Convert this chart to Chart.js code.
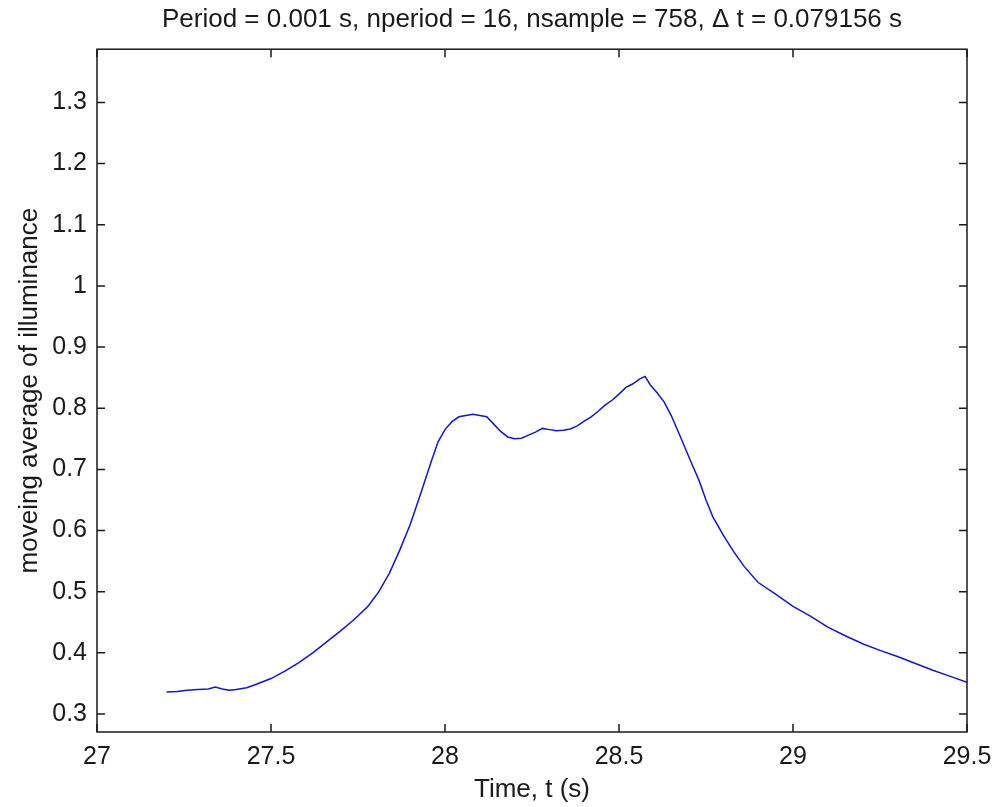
<!DOCTYPE html>
<html lang="en">
<head>
    <meta charset="UTF-8">
    <title>moving average of illuminance</title>
    <style>
        html, body { margin: 0; padding: 0; background: #fff; }
        #wrap { width: 995px; height: 807px; }
    </style>
</head>
<body>
    <div id="wrap"><canvas id="illumChart" width="995" height="807"></canvas></div>

    <script src="https://cdn.jsdelivr.net/npm/chart.js"></script>
    <script>
        // data
        const timeS = [27.20, 27.23, 27.26, 27.29, 27.32, 27.34, 27.36, 27.38, 27.40, 27.43,
            27.46, 27.50, 27.54, 27.58, 27.62, 27.66, 27.70, 27.74, 27.78, 27.81,
            27.84, 27.87, 27.90, 27.93, 27.96, 27.98, 28.00, 28.02, 28.04, 28.06,
            28.08, 28.10, 28.12, 28.14, 28.16, 28.18, 28.20, 28.22, 28.24, 28.26,
            28.28, 28.30, 28.32, 28.34, 28.36, 28.38, 28.40, 28.42, 28.44, 28.46,
            28.48, 28.50, 28.52, 28.54, 28.56, 28.575, 28.59, 28.61, 28.63, 28.65,
            28.67, 28.69, 28.71, 28.73, 28.75, 28.77, 28.80, 28.83, 28.86, 28.90,
            28.95, 29.00, 29.05, 29.10, 29.15, 29.20, 29.25, 29.30, 29.35, 29.40,
            29.45, 29.50];
        const illuminance = [0.336, 0.337, 0.339, 0.340, 0.341, 0.344, 0.341, 0.339, 0.340, 0.343,
            0.349, 0.358, 0.370, 0.384, 0.400, 0.418, 0.436, 0.455, 0.477, 0.500,
            0.530, 0.568, 0.610, 0.660, 0.712, 0.745, 0.765, 0.778, 0.786, 0.788,
            0.790, 0.788, 0.786, 0.774, 0.762, 0.753, 0.750, 0.751, 0.756, 0.761,
            0.767, 0.765, 0.763, 0.764, 0.766, 0.771, 0.779, 0.786, 0.795, 0.805,
            0.813, 0.823, 0.834, 0.840, 0.848, 0.852, 0.838, 0.825, 0.810, 0.788,
            0.762, 0.735, 0.708, 0.682, 0.650, 0.622, 0.592, 0.565, 0.541, 0.515,
            0.496, 0.476, 0.460, 0.442, 0.428, 0.415, 0.404, 0.394, 0.383, 0.372,
            0.362, 0.352];

        const xTicks = [27, 27.5, 28, 28.5, 29, 29.5];
        const yTicks = [0.3, 0.4, 0.5, 0.6, 0.7, 0.8, 0.9, 1.0, 1.1, 1.2, 1.3];
        const xRange = [27, 29.5];
        const yRange = [0.2706, 1.387];

        const fontFam = '"Liberation Sans", Arial, Helvetica, sans-serif';
        const ink = '#1a1a1a';

        // matlab style box with inward ticks on all four sides
        const boxTicks = {
            id: 'boxTicks',
            afterLayout(chart) {
                // centre the title over the axes box, like matlab does
                const tb = chart.titleBlock;
                if (tb) {
                    tb.left = chart.chartArea.left;
                    tb.right = chart.chartArea.right;
                    tb.width = tb.right - tb.left;
                }
            },
            afterDraw(chart) {
                const ctx = chart.ctx;
                const a = chart.chartArea;
                const xs = chart.scales.x, ys = chart.scales.y;
                const len = 8;
                ctx.save();
                ctx.strokeStyle = ink;
                ctx.lineWidth = 1.5;
                ctx.strokeRect(a.left, a.top, a.right - a.left, a.bottom - a.top);
                ctx.beginPath();
                xTicks.forEach(v => {
                    const px = xs.getPixelForValue(v);
                    ctx.moveTo(px, a.bottom); ctx.lineTo(px, a.bottom - len);
                    ctx.moveTo(px, a.top); ctx.lineTo(px, a.top + len);
                });
                yTicks.forEach(v => {
                    const py = ys.getPixelForValue(v);
                    ctx.moveTo(a.left, py); ctx.lineTo(a.left + len, py);
                    ctx.moveTo(a.right, py); ctx.lineTo(a.right - len, py);
                });
                ctx.stroke();
                ctx.restore();
            }
        };

        const ctx = document.getElementById('illumChart').getContext('2d');
        new Chart(ctx, {
            type: 'line',
            data: {
                datasets: [{
                    data: timeS.map((t, i) => ({ x: t, y: illuminance[i] })),
                    borderColor: '#1414d4',
                    borderWidth: 1.5,
                    pointRadius: 0,
                    tension: 0,
                    fill: false
                }]
            },
            options: {
                responsive: false,
                animation: false,
                layout: { padding: { left: 0, right: 28, top: 0, bottom: 0 } },
                plugins: {
                    legend: { display: false },
                    tooltip: { enabled: false },
                    title: {
                        display: true,
                        text: 'Period = 0.001 s, nperiod = 16, nsample = 758, \u0394 t = 0.079156 s',
                        color: ink,
                        font: { family: fontFam, size: 26, weight: 'normal', lineHeight: 1.2 },
                        padding: { top: 4, bottom: 14 }
                    }
                },
                scales: {
                    x: {
                        type: 'linear',
                        min: xRange[0],
                        max: xRange[1],
                        afterBuildTicks(scale) { scale.ticks = xTicks.map(v => ({ value: v })); },
                        afterFit(scale) {
                            scale.height = 75;
                            scale.paddingLeft = 0;
                            scale.paddingRight = 0;
                        },
                        grid: { display: false, drawTicks: false },
                        border: { display: false },
                        ticks: {
                            color: ink,
                            padding: 10,
                            maxRotation: 0,
                            font: { family: fontFam, size: 25 },
                            callback: v => String(v)
                        },
                        title: {
                            display: true,
                            text: 'Time, t (s)',
                            color: ink,
                            font: { family: fontFam, size: 26 },
                            padding: { top: 0, bottom: 2 }
                        }
                    },
                    y: {
                        type: 'linear',
                        min: yRange[0],
                        max: yRange[1],
                        afterBuildTicks(scale) { scale.ticks = yTicks.map(v => ({ value: v })); },
                        afterFit(scale) { scale.width = 97; },
                        grid: { display: false, drawTicks: false },
                        border: { display: false },
                        ticks: {
                            color: ink,
                            padding: 10,
                            font: { family: fontFam, size: 25 },
                            callback: v => String(Math.round(v * 10) / 10)
                        },
                        title: {
                            display: true,
                            text: 'moveing average of illuminance',
                            color: ink,
                            font: { family: fontFam, size: 26 },
                            padding: { top: 14, bottom: 0 }
                        }
                    }
                }
            },
            plugins: [boxTicks]
        });
    </script>
</body>
</html>
